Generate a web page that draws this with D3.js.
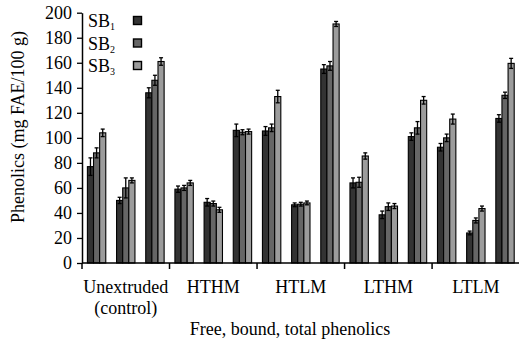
<!DOCTYPE html>
<html>
<head>
<meta charset="utf-8">
<script src="https://cdn.jsdelivr.net/npm/d3@7/dist/d3.min.js"></script>
<style>
  body { margin: 0; background: #fff; }
</style>
</head>
<body>
<div id="chart"></div>
<script>
const groups = ['Unextruded|(control)', 'HTHM', 'HTLM', 'LTHM', 'LTLM'];
const fractions = ['Free', 'Bound', 'Total'];
const seriesNames = ['SB1', 'SB2', 'SB3'];
const yTicks = [0, 20, 40, 60, 80, 100, 120, 140, 160, 180, 200];

// values in group order: free, bound, total for each group
const sb1 = [77, 50, 136, 59, 48.5, 106, 105.5, 46.5, 155, 64, 38.5, 101, 92.5, 24, 115.5];
const sb2 = [88, 60, 146, 60, 47.5, 104.5, 108, 47, 157.5, 64.5, 45, 108, 100, 34, 134];
const sb3 = [104, 66, 161, 64, 42.5, 105, 133, 48, 191, 85.5, 45.5, 130, 115, 43.5, 159.5];
const err1 = [7, 2.5, 4, 2.5, 3, 5, 3.5, 1.5, 3.5, 4, 3, 3, 3, 1.5, 3];
const err2 = [4, 8, 4, 2, 2, 2, 3, 1.5, 3.5, 4, 3, 5, 3, 2, 2.5];
const err3 = [3, 2, 3, 2, 2, 2, 5, 1.5, 2, 2.5, 2, 3, 4, 2, 4];

const colors = ['#333333', '#666666', '#9c9c9c'];
const values = [sb1, sb2, sb3];
const errors = [err1, err2, err3];
const FONT = "'Liberation Serif', 'DejaVu Serif', serif";

const data = [];
groups.forEach((g, gi) => {
  fractions.forEach((f, fi) => {
    seriesNames.forEach((s, si) => {
      const k = gi * 3 + fi;
      data.push({ group: g, fraction: f, series: s, value: values[si][k], err: errors[si][k] });
    });
  });
});

const W = 519, H = 341;
const margin = { top: 12.7, left: 82, bottom: 78, right: -0.6 };
const width = W - margin.left - margin.right;
const height = H - margin.top - margin.bottom;

const svg = d3.select('#chart').append('svg')
  .attr('width', W).attr('height', H)
  .attr('font-family', FONT);
const g = svg.append('g').attr('transform', `translate(${margin.left},${margin.top})`);

const x0 = d3.scaleBand().domain(groups).range([0, width]).padding(0);
const x1 = d3.scaleBand().domain(fractions).range([0, x0.bandwidth()])
  .paddingInner(0.37).paddingOuter(0.185);
const x2 = d3.scaleBand().domain(seriesNames).range([0, x1.bandwidth()]);
const y = d3.scaleLinear().domain([0, 200]).range([height, 0]);
const color = d3.scaleOrdinal().domain(seriesNames).range(colors);

// bars
g.selectAll('.bar')
  .data(data)
  .enter()
  .append('rect')
  .attr('x', d => x0(d.group) + x1(d.fraction) + x2(d.series))
  .attr('y', d => y(d.value))
  .attr('width', x2.bandwidth())
  .attr('height', d => height - y(d.value))
  .attr('fill', d => color(d.series))
  .attr('stroke', '#000')
  .attr('stroke-width', 1.1);

// error bars
const eb = g.selectAll('.err').data(data).enter().append('g')
  .attr('transform', d => `translate(${x0(d.group) + x1(d.fraction) + x2(d.series) + x2.bandwidth() / 2},0)`);
eb.append('line')
  .attr('y1', d => y(d.value + d.err)).attr('y2', d => y(d.value - d.err))
  .attr('stroke', '#000').attr('stroke-width', 1.3);
eb.append('line')
  .attr('x1', -2).attr('x2', 2)
  .attr('y1', d => y(d.value + d.err)).attr('y2', d => y(d.value + d.err))
  .attr('stroke', '#000').attr('stroke-width', 1.3);
eb.append('line')
  .attr('x1', -2).attr('x2', 2)
  .attr('y1', d => y(d.value - d.err)).attr('y2', d => y(d.value - d.err))
  .attr('stroke', '#000').attr('stroke-width', 1.3);

// y axis
const yAxis = g.append('g')
  .call(d3.axisLeft(y).tickValues(yTicks).tickSize(5).tickSizeOuter(0))
  .attr('font-family', FONT);
yAxis.select('.domain').attr('stroke-width', 1.5);
yAxis.selectAll('.tick line').attr('stroke-width', 1.3);
yAxis.selectAll('.tick text')
  .attr('x', -10)
  .style('font-family', FONT)
  .style('font-size', '18px');

// x axis with ticks at group boundaries
const xAxis = g.append('g').attr('transform', `translate(0,${height})`);
xAxis.append('line')
  .attr('x1', 0).attr('x2', width)
  .attr('stroke', '#000').attr('stroke-width', 1.5);
xAxis.selectAll('.gtick')
  .data(groups)
  .enter()
  .append('line')
  .attr('x1', d => x0(d)).attr('x2', d => x0(d))
  .attr('y1', 0).attr('y2', 6)
  .attr('stroke', '#000').attr('stroke-width', 1.5);

const labels = xAxis.selectAll('.glabel')
  .data(groups)
  .enter()
  .append('text')
  .attr('x', d => x0(d) + x0.bandwidth() / 2)
  .attr('y', 30)
  .attr('text-anchor', 'middle')
  .style('font-family', FONT)
  .style('font-size', '18px');
labels.each(function (d) {
  const parts = d.split('|');
  const t = d3.select(this);
  parts.forEach((p, i) => {
    t.append('tspan')
      .attr('x', x0(d) + x0.bandwidth() / 2)
      .attr('dy', i === 0 ? 0 : 21)
      .text(p);
  });
});

// axis titles
svg.append('text')
  .attr('x', 290)
  .attr('y', 335)
  .attr('text-anchor', 'middle')
  .style('font-family', FONT)
  .style('font-size', '18px')
  .text('Free, bound, total phenolics');

svg.append('text')
  .attr('transform', 'translate(24,127) rotate(-90)')
  .attr('text-anchor', 'middle')
  .style('font-family', FONT)
  .style('font-size', '18px')
  .text('Phenolics (mg FAE/100 g)');

// legend
const legend = svg.append('g').attr('transform', 'translate(88,0)');
const rows = legend.selectAll('.leg')
  .data(seriesNames)
  .enter()
  .append('g')
  .attr('transform', (d, i) => `translate(0,${27 + i * 22.5})`);
rows.append('text')
  .style('font-family', FONT)
  .style('font-size', '18px')
  .each(function (d) {
    const t = d3.select(this);
    t.append('tspan').text(d.slice(0, 2));
    t.append('tspan').attr('dy', 3).style('font-size', '10px').text(d.slice(2));
  });
rows.append('rect')
  .attr('x', 45.5).attr('y', -10.5)
  .attr('width', 8).attr('height', 8)
  .attr('fill', d => color(d))
  .attr('stroke', '#000')
  .attr('stroke-width', 1.4);
</script>
</body>
</html>
